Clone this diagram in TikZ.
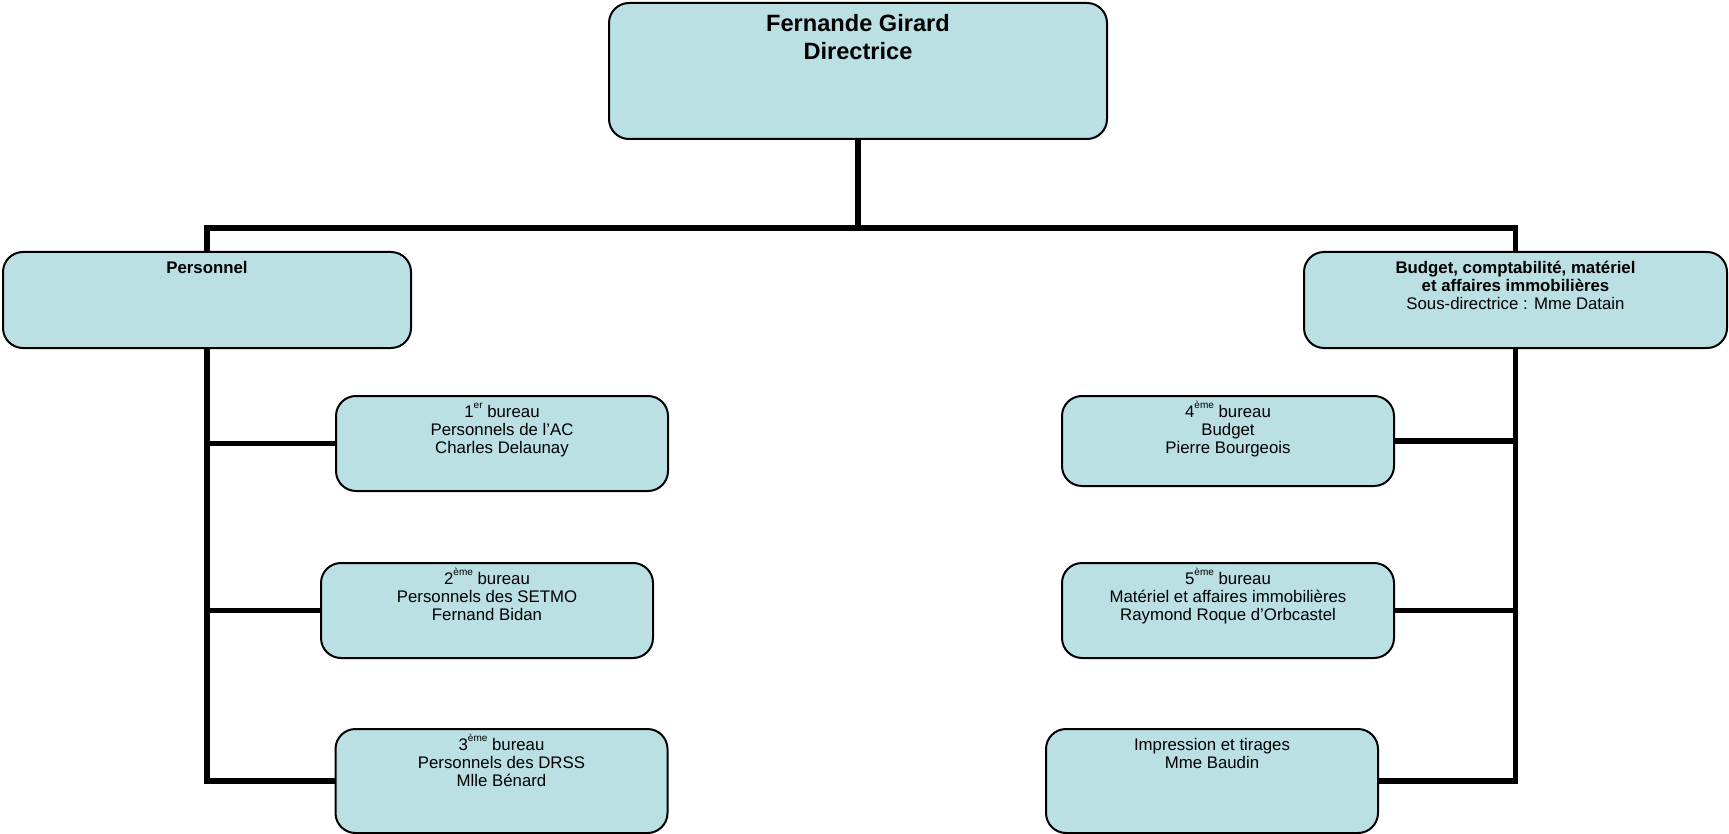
\documentclass[tikz,border=0pt]{standalone}
\usepackage{fontspec}
\setmainfont{Liberation Sans}
\usepackage{xcolor}
\usepackage{tikz}

\definecolor{boxblue}{RGB}{186,224,227}
\newlength{\pxunit}
\setlength{\pxunit}{0.5pt}
\newcommand{\orgtext}[3]{\parbox[c][#2\pxunit][t]{#1\pxunit}{\centering\vspace*{4.6pt}\strut #3}}
\newcommand{\sups}[1]{\smash{\raisebox{0.55em}{\fontsize{5}{5}\selectfont #1}}}

\begin{document}
\begin{tikzpicture}[x=0.5pt, y=-0.5pt,
    orgbox/.style={draw=black, fill=boxblue, line width=1pt, rounded corners=10pt,
        inner sep=0pt, font=\fontsize{8.4}{9}\selectfont},
    link/.style={line width=2.8pt}]
    \useasboundingbox (0,0) rectangle (1729,834);

    % Direction
    \node[orgbox, font=\fontsize{11.8}{14}\selectfont\bfseries] (dir) at (858,71)
        {\orgtext{498}{136}{Fernande Girard\\ Directrice}};
    \coordinate (bus) at (858,228);

    % Sous-directions
    \node[orgbox] (pers) at (207,300) {\orgtext{408}{96}{\textbf{Personnel}}};
    \node[orgbox] (budg) at (1515.5,300) {\orgtext{423}{96}{\textbf{Budget, comptabilité, matériel}\\
        \textbf{et affaires immobilières}\\ Sous-directrice : Mme Datain}};

    % Bureaux (personnel)
    \node[orgbox] (b1) at (502,443.5) {\orgtext{332}{95}{1\sups{er} bureau\\
        Personnels de l’AC\\ Charles Delaunay}};
    \node[orgbox] (b2) at (487,610.5) {\orgtext{332}{95}{2\sups{ème} bureau\\
        Personnels des SETMO\\ Fernand Bidan}};
    \node[orgbox] (b3) at (501.5,781) {\orgtext{332}{104}{3\sups{ème} bureau\\
        Personnels des DRSS\\ Mlle Bénard}};

    % Bureaux (budget)
    \node[orgbox] (b4) at (1228,441) {\orgtext{332}{90}{4\sups{ème} bureau\\
        Budget\\ Pierre Bourgeois}};
    \node[orgbox] (b5) at (1228,610.5) {\orgtext{332}{95}{5\sups{ème} bureau\\
        Matériel et affaires immobilières\\ Raymond Roque d’Orbcastel}};
    \node[orgbox] (b6) at (1212,781) {\orgtext{332}{104}{Impression et tirages\\ Mme Baudin}};

    % Liaisons
    \draw[link] (dir.south) -- (bus);
    \draw[link] (pers.north) |- (bus) -| (budg.north);
    \draw[link] (pers.south) |- (b1.west);
    \draw[link] (pers.south) |- (b2.west);
    \draw[link] (pers.south) |- (b3.west);
    \draw[link] (budg.south) |- (b4.east);
    \draw[link] (budg.south) |- (b5.east);
    \draw[link] (budg.south) |- (b6.east);
\end{tikzpicture}
\end{document}
